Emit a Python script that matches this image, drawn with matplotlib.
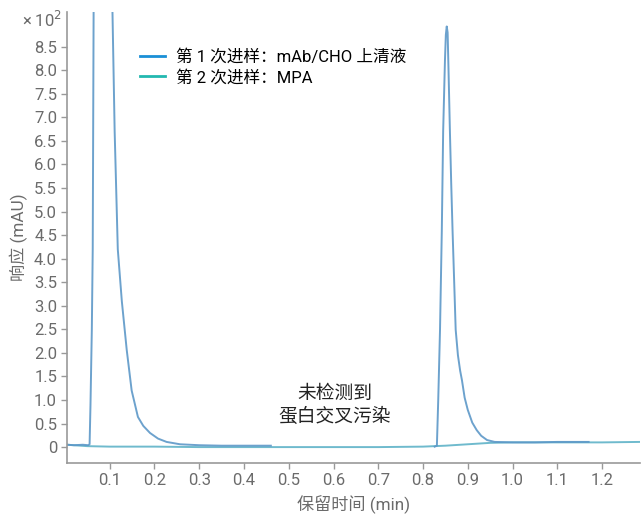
import numpy as np
import matplotlib
matplotlib.use("Agg")
import matplotlib.pyplot as plt
from matplotlib.lines import Line2D
from matplotlib.ticker import FixedLocator, FuncFormatter

plt.rcParams['font.family'] = ['Roboto', 'Noto Sans CJK SC', 'DejaVu Sans']

# injection 1: mAb/CHO supernatant (response x 10^2 mAU), NaN = gap in trace
t1 = [0.005, 0.02, 0.04, 0.052, 0.055, 0.057, 0.060, 0.062, 0.064, 0.070, 0.085,
      0.100, 0.106, 0.111, 0.118, 0.127, 0.138, 0.149, 0.163, 0.175, 0.190,
      0.208, 0.227, 0.257, 0.30, 0.35, 0.40, 0.46, np.nan,
      0.826, 0.831, 0.834, 0.838, 0.842, 0.845, 0.849, 0.851, 0.853, 0.855,
      0.857, 0.860, 0.863, 0.866, 0.870, 0.873, 0.878, 0.883, 0.887, 0.893,
      0.900, 0.910, 0.920, 0.930, 0.943, 0.96, 1.00, 1.05, 1.10, 1.17]
r1 = [0.05, 0.04, 0.05, 0.04, 0.06, 0.9, 2.5, 4.2, 9.3, 15.0, 18.0,
      15.0, 9.3, 6.7, 4.2, 3.1, 2.06, 1.2, 0.64, 0.45, 0.30,
      0.18, 0.11, 0.06, 0.04, 0.03, 0.03, 0.03, np.nan,
      0.01, 0.03, 1.0, 2.5, 4.6, 6.7, 8.2, 8.75, 8.93, 8.8,
      8.0, 6.74, 5.6, 4.6, 3.4, 2.49, 1.95, 1.62, 1.42, 1.05,
      0.79, 0.52, 0.36, 0.24, 0.15, 0.11, 0.10, 0.10, 0.11, 0.11]

# injection 2: MPA blank
t2 = [0.005, 0.05, 0.10, 0.20, 0.30, 0.40, 0.50, 0.60, 0.70, 0.80, 0.85,
      0.90, 0.95, 1.00, 1.10, 1.20, 1.285]
r2 = [0.05, 0.02, 0.01, 0.01, 0.0, 0.0, 0.0, 0.0, 0.0, 0.01, 0.03,
      0.06, 0.09, 0.10, 0.10, 0.10, 0.11]

x_ticks = [0.1, 0.2, 0.3, 0.4, 0.5, 0.6, 0.7, 0.8, 0.9, 1.0, 1.1, 1.2]
y_ticks = [0, 0.5, 1.0, 1.5, 2.0, 2.5, 3.0, 3.5, 4.0, 4.5, 5.0, 5.5, 6.0,
           6.5, 7.0, 7.5, 8.0, 8.5]
labels = ['第 1 次进样：mAb/CHO 上清液', '第 2 次进样：MPA']

fig = plt.figure(figsize=(6.42, 5.14), dpi=100)
ax = fig.add_axes([0.104, 0.099, 0.893, 0.878])

ax.plot(t2, r2, color='#5fb3c8', lw=1.4, alpha=0.9)
ax.plot(t1, r1, color='#5d98c8', lw=1.4, alpha=0.9)

ax.set_xlim(0.004, 1.285)
ax.set_ylim(-0.34, 9.24)
ax.xaxis.set_major_locator(FixedLocator(x_ticks))
ax.yaxis.set_major_locator(FixedLocator(y_ticks))
ax.xaxis.set_major_formatter(FuncFormatter(lambda v, p: f'{v:.1f}'))
ax.yaxis.set_major_formatter(FuncFormatter(lambda v, p: '0' if v == 0 else f'{v:.1f}'))
ax.tick_params(colors='#999999', labelcolor='#6b6b6b', labelsize=12, length=4, width=1, pad=3)
for side in ['top', 'right']:
    ax.spines[side].set_visible(False)
for side in ['left', 'bottom']:
    ax.spines[side].set_color('#999999')
    ax.spines[side].set_linewidth(1.2)

ax.set_xlabel('保留时间 (min)', color='#6b6b6b', fontsize=12.3, labelpad=5)
ax.set_ylabel('响应 (mAU)', color='#6b6b6b', fontsize=12.3, labelpad=4)
fig.text(0.034, 0.962, '× 10$^2$', color='#6b6b6b', fontsize=12, ha='left', va='center')

handles = [Line2D([], [], color='#1a8fd6', lw=2), Line2D([], [], color='#22b8b0', lw=2)]
ax.legend(handles, labels, loc='upper left', bbox_to_anchor=(0.101, 0.952), frameon=False,
          fontsize=12, handlelength=1.5, labelspacing=0.3, handletextpad=0.65)

ax.text(0.603, 0.88, '未检测到\n蛋白交叉污染', ha='center', va='center', fontsize=13.5,
        color='#222222', linespacing=1.3)

fig.savefig('out.png', dpi=100)
